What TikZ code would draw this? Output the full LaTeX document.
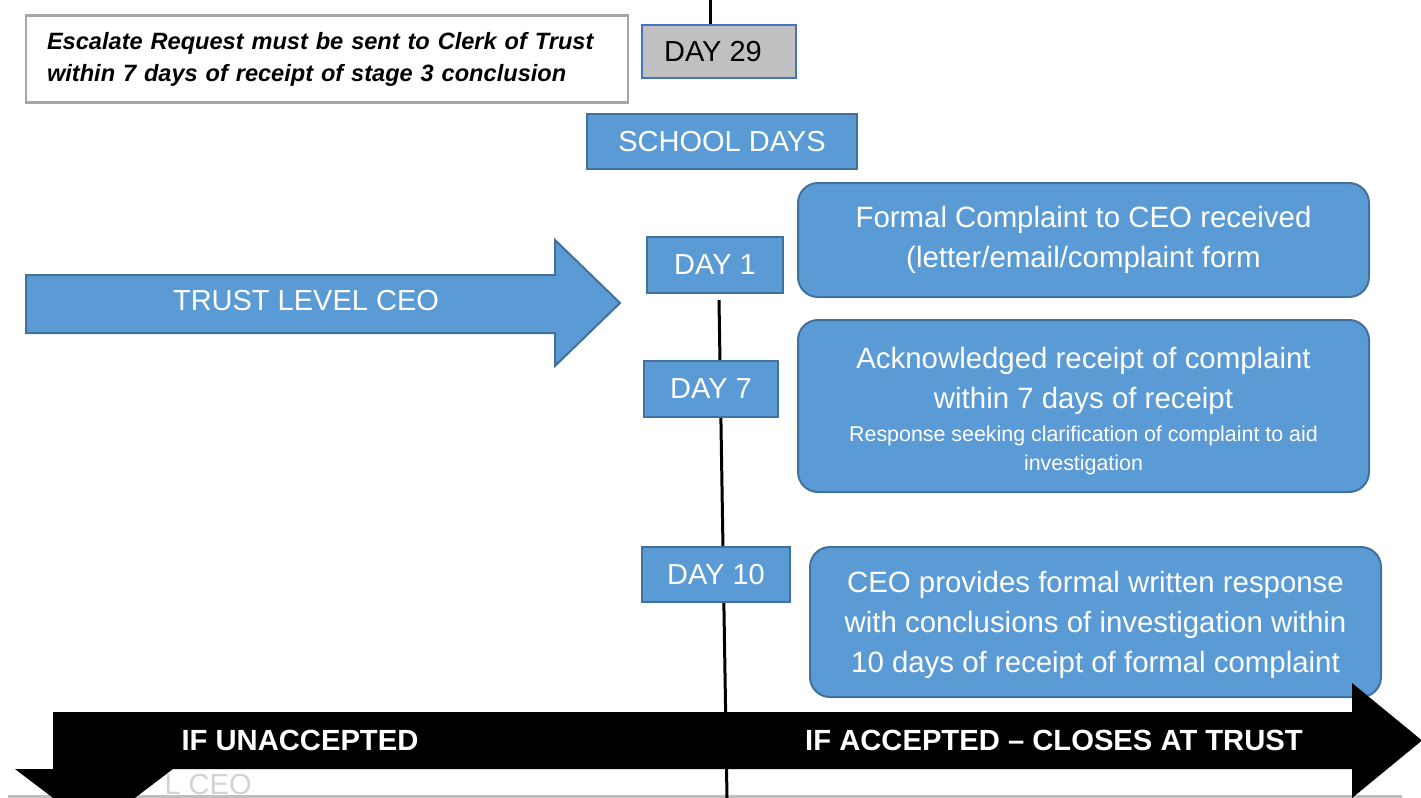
\documentclass[tikz,border=0pt]{standalone}
\usepackage{fontspec}
\setmainfont{Liberation Sans}
\usepackage{xcolor}
\usetikzlibrary{arrows.meta}
\usetikzlibrary{backgrounds}

\definecolor{boxblue}{HTML}{5B9BD5}
\definecolor{edgeblue}{HTML}{41719C}
\definecolor{dayedge}{HTML}{4472C4}
\definecolor{daygray}{HTML}{C0C0C0}
\definecolor{noteedge}{HTML}{A6A6A6}
\definecolor{pageline}{HTML}{BFBFBF}

\begin{document}
\begin{tikzpicture}[x=0.5pt,y=-0.5pt,
daybox/.style={draw=edgeblue,fill=boxblue,line width=1pt,text=white,inner sep=0pt,font=\fontsize{14.5}{17}\selectfont},
stagebox/.style={draw=edgeblue,fill=boxblue,line width=1pt,rounded corners=10pt,inner sep=0pt,minimum width=285.5pt},
stagetext/.style={text=white,align=flush center,inner sep=0pt,text width=280pt,font=\fontsize{14.7}{20}\selectfont},
bandlabel/.style={text=white,inner sep=0pt,font=\bfseries\fontsize{14.6}{17}\selectfont}
]
\useasboundingbox (0,0) rectangle (1421,798);
\clip (0,0) rectangle (1421,798);

\node[draw=noteedge,fill=white,line width=1.3pt,minimum width=301pt,minimum height=43.5pt,inner xsep=10.5pt,text width=280pt,align=left,font=\bfseries\itshape\fontsize{11.8}{16}\selectfont] (note) at (327,59)
{Escalate Request must be sent to Clerk of Trust\\ within 7 days of receipt of stage 3 conclusion};

\node[draw=dayedge,fill=daygray,line width=0.6pt,inner sep=0pt,minimum width=77pt,minimum height=26.5pt,font=\fontsize{14.5}{17}\selectfont] (day29) at (719,51.5) {\hspace*{-6pt}DAY 29};
\node[daybox,minimum width=135pt,minimum height=27.5pt] (school) at (722,141.5) {SCHOOL DAYS};

\node[daybox,minimum width=68pt,minimum height=28pt] (day1) at (715,265) {DAY 1};
\node[daybox,minimum width=67pt,minimum height=28pt] (day7) at (711,389) {DAY 7};
\node[daybox,minimum width=74pt,minimum height=27.5pt] (day10) at (716,574.5) {DAY 10};

\node[stagebox,minimum height=57pt] (received) at (1083.5,240) {};
\node[stagetext] (receivedtext) at (1083.5,240)
{Formal Complaint to CEO received\\ (letter/email/complaint form};
\node[stagebox,minimum height=86pt] (acknowledged) at (1083.5,406) {};
\node[stagetext] (acknowledgedtext) at (1083.5,411)
{Acknowledged receipt of complaint\\ within 7 days of receipt\par\vspace{2pt}
{\fontsize{10.7}{14.5}\selectfont Response seeking clarification of complaint to aid\par investigation\par}};
\node[stagebox,minimum height=75pt] (response) at (1095.5,622) {};
\node[stagetext] (responsetext) at (1095.5,625)
{CEO provides formal written response\\ with conclusions of investigation within\\ 10 days of receipt of formal complaint};

\draw[draw=edgeblue,fill=boxblue,line width=1pt] (26,275) -- (555,275) -- (555,240) -- (620,303)
-- (555,366) -- (555,333) -- (26,333) -- cycle;
\node[text=white,font=\fontsize{14.5}{17}\selectfont] (trust) at (306,301) {TRUST LEVEL CEO};

\node[anchor=base east,text=gray!35,inner sep=0pt,font=\fontsize{14.5}{17}\selectfont] (oldtext) at (252,794) {L CEO};

\coordinate (linetop) at (710,0);
\coordinate (linestart) at (719,300);
\coordinate (lineend) at (727,798);

\fill[black] (53,712) -- (1352,712) -- (1352,683) -- (1422,740.5) -- (1352,798) -- (1352,769)
-- (173,769) -- (94,829) -- (15,769) -- (53,769) -- cycle;
\node[bandlabel] (unaccepted) at (300,740) {IF UNACCEPTED};
\node[bandlabel] (accepted) at (1054,740) {IF ACCEPTED -- CLOSES AT TRUST};

\begin{scope}[on background layer]
\draw[pageline,line width=1.5pt] (8,796) -- (1402,796);
\draw[line width=1.5pt] (linetop) -- (linetop |- day29.north);
\draw[line width=1.5pt] (linestart) -- (lineend);
\end{scope}
\end{tikzpicture}
\end{document}
